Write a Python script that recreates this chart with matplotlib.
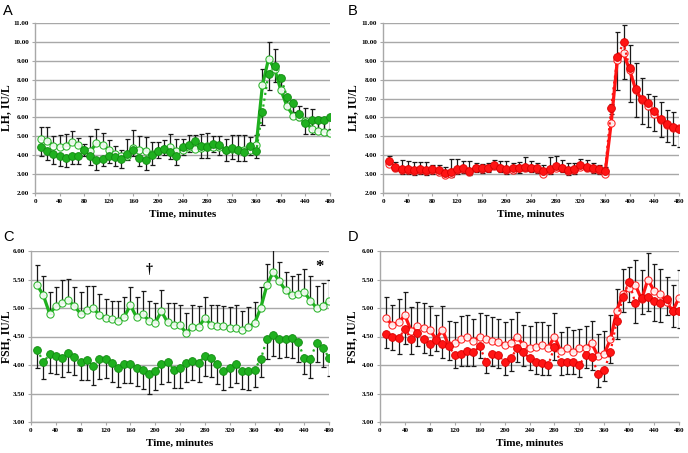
import matplotlib
matplotlib.use("Agg")
import matplotlib.pyplot as plt
import numpy as np

# ---------------- data ----------------
time_min = list(range(10, 481, 10))

# Panel A (LH, green)
A_open = [4.85, 4.75, 4.5, 4.45, 4.5, 4.7, 4.55, 4.3, 4.2, 4.65, 4.55, 4.3, 4.05, 3.95, 3.95, 4.4,
          4.3, 4.25, 4.05, 4.2, 4.35, 4.45, 4.2, 4.3, 4.45, 4.35, 4.4, 4.5, 4.45, 4.45, 4.3, 4.35,
          4.3, 4.3, 4.3, 4.55, 7.7, 9.1, 8.55, 7.45, 6.6, 6.1, 6.0, 5.8, 5.4, 5.3, 5.25, 5.2]
A_open_top = [5.49, 5.49, 5.03, 5.09, 5.12, 5.26, 4.91, 4.61, 5.03, 5.39, 5.18, 4.82, 4.5, 4.3, 4.86, 5.32,
              5.0, 4.95, 4.68, 4.68, 4.79, 5.14, 4.86, 4.86, 5.09, 5.09, 5.14, 5.18, 5.0, 5.03, 4.86, 5.09,
              5.09, 5.09, 4.96, 5.09, 8.56, 10.0, 9.6, 8.18, 7.03, 6.59, 6.59, 6.5, 6.45, 6.0, 5.9, 5.9]
A_fill = [4.42, 4.2, 4.06, 3.94, 3.85, 3.97, 3.97, 4.3, 3.94, 3.73, 3.8, 3.97, 3.9, 3.8, 4.08, 4.26,
          3.85, 3.76, 4.0, 4.24, 4.33, 4.15, 3.94, 4.42, 4.52, 4.77, 4.47, 4.42, 4.61, 4.52, 4.3, 4.38,
          4.3, 4.15, 4.47, 4.2, 6.3, 8.32, 8.74, 8.1, 7.1, 6.75, 6.2, 5.7, 5.85, 5.85, 5.85, 6.0]
A_fill_bottom = [3.94, 3.73, 3.53, 3.41, 3.36, 3.53, 3.53, 3.94, 3.5, 3.24, 3.41, 3.59, 3.45, 3.32, 3.76, 3.94,
                 3.41, 3.24, 3.5, 3.85, 4.03, 3.8, 3.5, 4.03, 4.15, 4.38, 3.85, 3.85, 4.15, 4.03, 3.71, 3.8,
                 3.71, 3.68, 4.03, 3.85, 5.62, 7.47, 7.86, 7.3, 6.5, 6.3, 5.85, 5.1, 5.1, 5.3, 5.3, 5.4]

# Panel B (LH, red)
B_open = [3.55, 3.35, 3.2, 3.2, 3.15, 3.2, 3.15, 3.2, 3.1, 2.95, 3.0, 3.2, 3.25, 3.1, 3.3, 3.25,
          3.3, 3.45, 3.3, 3.2, 3.2, 3.3, 3.35, 3.3, 3.25, 3.0, 3.2, 3.35, 3.3, 3.15, 3.2, 3.4,
          3.35, 3.25, 3.2, 3.0, 5.7, 9.05, 9.4, 8.5, 7.45, 6.9, 6.6, 6.2, 5.85, 5.6, 5.45, 5.42]
B_open_top = [3.95, 3.65, 3.75, 3.7, 3.65, 3.65, 3.65, 3.5, 3.5, 3.4, 3.8, 3.8, 3.7, 3.7, 3.6, 3.55,
              3.6, 3.75, 3.7, 3.7, 3.6, 3.65, 3.9, 3.7, 3.6, 3.5, 3.9, 3.95, 3.75, 3.6, 3.6, 3.8,
              3.75, 3.6, 3.5, 3.4, 6.7, 10.5, 10.9, 9.85, 8.9, 8.1, 7.25, 7.15, 6.8, 6.4, 6.3, 5.55]
B_fill = [3.7, 3.38, 3.25, 3.25, 3.2, 3.25, 3.2, 3.25, 3.2, 3.05, 3.1, 3.25, 3.3, 3.15, 3.35, 3.3,
          3.35, 3.5, 3.35, 3.25, 3.3, 3.3, 3.4, 3.35, 3.3, 3.15, 3.25, 3.45, 3.35, 3.2, 3.25, 3.5,
          3.4, 3.3, 3.25, 3.15, 6.5, 9.2, 9.97, 8.6, 7.5, 6.97, 6.75, 6.35, 5.92, 5.65, 5.48, 5.38]
B_fill_bottom = [3.45, 3.15, 3.0, 3.0, 2.95, 3.0, 2.95, 3.0, 2.95, 2.85, 2.85, 3.0, 3.05, 2.95, 3.1, 3.05,
                 3.1, 3.25, 3.1, 3.0, 3.05, 3.05, 3.15, 3.1, 3.05, 2.95, 3.0, 3.2, 3.1, 2.95, 3.0, 3.25,
                 3.15, 3.05, 3.0, 2.95, 6.2, 7.45, 8.05, 6.8, 6.05, 5.65, 5.5, 5.3, 4.95, 4.7, 4.55, 4.45]

# Panel C (FSH, green)
C_open = [5.40, 5.22, 4.90, 5.03, 5.09, 5.14, 5.03, 4.90, 4.96, 5.0, 4.88, 4.82, 4.80, 4.78, 4.84, 5.05,
          4.84, 4.89, 4.78, 4.74, 4.94, 4.75, 4.71, 4.70, 4.56, 4.67, 4.67, 4.82, 4.71, 4.68, 4.68, 4.65,
          4.65, 4.62, 4.67, 4.73, 5.0, 5.40, 5.63, 5.47, 5.31, 5.22, 5.25, 5.28, 5.13, 5.0, 5.03, 5.13]
C_open_top = [5.76, 5.57, 5.28, 5.37, 5.49, 5.51, 5.37, 5.28, 5.38, 5.38, 5.24, 5.15, 5.12, 5.12, 5.2, 5.36,
              5.19, 5.29, 5.12, 5.08, 5.32, 5.09, 5.08, 5.05, 4.91, 5.05, 5.03, 5.2, 5.06, 5.06, 5.03, 5.02,
              5.05, 4.94, 5.02, 5.1, 5.37, 5.78, 6.04, 5.81, 5.63, 5.57, 5.6, 5.69, 5.57, 5.38, 5.43, 5.5]
C_fill = [4.27, 4.05, 4.19, 4.15, 4.12, 4.21, 4.14, 4.05, 4.09, 3.98, 4.11, 4.11, 4.04, 3.94, 4.02, 4.02,
          3.95, 3.92, 3.84, 3.9, 4.01, 4.05, 3.92, 3.94, 4.04, 4.07, 4.04, 4.16, 4.12, 4.01, 3.9, 3.95,
          4.01, 3.9, 3.9, 3.92, 4.1, 4.45, 4.52, 4.45, 4.46, 4.48, 4.4, 4.13, 4.1, 4.39, 4.3, 4.13]
C_fill_bottom = [3.94, 3.76, 3.86, 3.84, 3.79, 3.88, 3.82, 3.73, 3.74, 3.65, 3.76, 3.77, 3.7, 3.61, 3.68, 3.68,
                 3.64, 3.58, 3.5, 3.57, 3.67, 3.71, 3.6, 3.6, 3.7, 3.74, 3.7, 3.8, 3.79, 3.67, 3.57, 3.61,
                 3.68, 3.58, 3.57, 3.61, 3.79, 4.11, 4.16, 4.12, 4.14, 4.13, 4.05, 3.84, 3.78, 4.05, 3.96, 3.81]

# Panel D (FSH, red)
D_open = [4.82, 4.7, 4.75, 4.87, 4.6, 4.68, 4.65, 4.62, 4.45, 4.62, 4.35, 4.38, 4.45, 4.5, 4.42, 4.5,
          4.45, 4.42, 4.4, 4.35, 4.38, 4.5, 4.35, 4.3, 4.32, 4.35, 4.3, 4.5, 4.25, 4.3, 4.22, 4.3,
          4.3, 4.38, 4.15, 4.2, 4.45, 4.95, 5.25, 5.35, 5.4, 5.15, 5.5, 5.3, 5.25, 5.1, 4.95, 5.18]
D_open_top = [5.2, 5.06, 5.15, 5.28, 5.02, 5.1, 5.08, 5.04, 4.88, 5.04, 4.77, 4.75, 4.86, 4.87, 4.8, 4.91,
              4.88, 4.84, 4.81, 4.75, 4.8, 4.93, 4.7, 4.68, 4.75, 4.75, 4.7, 4.91, 4.58, 4.67, 4.61, 4.64,
              4.68, 4.77, 4.55, 4.59, 4.87, 5.34, 5.69, 5.72, 5.85, 5.67, 5.97, 5.78, 5.68, 5.54, 5.41, 5.66]
D_fill = [4.55, 4.49, 4.47, 4.63, 4.45, 4.57, 4.45, 4.36, 4.43, 4.37, 4.33, 4.18, 4.2, 4.24, 4.22, 4.33,
          4.06, 4.2, 4.17, 4.06, 4.12, 4.29, 4.22, 4.12, 4.06, 4.04, 4.0, 4.31, 4.05, 4.06, 4.05, 4.0,
          4.17, 4.14, 3.85, 3.91, 4.23, 4.77, 5.19, 5.46, 5.08, 5.18, 5.19, 5.12, 5.09, 5.16, 4.95, 4.95]
D_fill_bottom = [4.3, 4.26, 4.2, 4.37, 4.2, 4.33, 4.21, 4.17, 4.24, 4.12, 4.08, 3.95, 3.99, 3.99, 3.99, 4.13,
                 3.86, 3.98, 3.95, 3.82, 3.89, 4.06, 3.99, 3.91, 3.85, 3.82, 3.82, 4.08, 3.82, 3.84, 3.84, 3.79,
                 3.95, 3.91, 3.61, 3.72, 4.04, 4.45, 4.93, 5.1, 4.74, 4.9, 4.94, 4.78, 4.75, 4.88, 4.67, 4.65]

x_ticks = list(range(0, 481, 40))
lh_ticks = [2, 3, 4, 5, 6, 7, 8, 9, 10, 11]
fsh_ticks = [3.0, 3.5, 4.0, 4.5, 5.0, 5.5, 6.0]

GREEN = "#1fb01f"
GREEN_EDGE = "#118a11"
RED = "#ff1414"
RED_EDGE = "#d90000"

SERIF = "Liberation Serif"
SANS = "Liberation Sans"

W, H = 688, 453
fig = plt.figure(figsize=(W / 100, H / 100), dpi=100)


def box(l, r, t, b):
    return [l / W, 1 - b / H, (r - l) / W, (b - t) / H]


def panel(px, open_v, open_top, fill_v, fill_bot, color, edge, yticks, ylabel, ylab_x,
          letter, letter_xy):
    l, r, tp, b = px
    ax = fig.add_axes(box(l, r, tp, b))
    t = np.array(time_min)
    ov = np.array(open_v)
    fv = np.array(fill_v)
    up = np.clip(np.array(open_top) - ov, 0, None)
    dn = np.clip(fv - np.array(fill_bot), 0, None)
    ax.errorbar(t, ov, yerr=[np.zeros_like(up), up], fmt="none", ecolor="#1a1a1a",
                elinewidth=0.9, capsize=1.8, capthick=0.9, zorder=2)
    ax.errorbar(t, fv, yerr=[dn, np.zeros_like(dn)], fmt="none", ecolor="#1a1a1a",
                elinewidth=0.9, capsize=1.8, capthick=0.9, zorder=2)
    ax.plot(t, ov, "-", color=color, lw=2.3, zorder=3)
    ax.plot(t, ov, "o", mfc="white", mec=color, mew=0.8, ms=5.2, alpha=0.9, zorder=3)
    ax.plot(t, fv, ":", color=color, lw=1.6, zorder=4)
    ax.plot(t, fv, "o", mfc=color, mec=edge, mew=0.6, ms=5.6, zorder=5)

    ax.set_xlim(0, 480)
    ax.set_ylim(yticks[0], yticks[-1])
    ax.set_xticks(x_ticks)
    ax.set_yticks(yticks)
    ax.set_yticklabels(["%.2f" % v for v in yticks])
    ax.set_xticklabels([str(v) for v in x_ticks])
    ax.grid(axis="y", color="#a8a8a8", lw=1.0)
    ax.set_axisbelow(True)
    for s in ["top", "right"]:
        ax.spines[s].set_visible(False)
    for s in ["left", "bottom"]:
        ax.spines[s].set_color("#a8a8a8")
        ax.spines[s].set_linewidth(1.0)
    ax.tick_params(axis="both", length=2.5, width=0.8, color="#a8a8a8", pad=2)
    for lab in ax.get_xticklabels() + ax.get_yticklabels():
        lab.set_fontfamily(SERIF)
        lab.set_fontweight("bold")
        lab.set_fontsize(5)
    ax.set_ylabel(ylabel, fontfamily=SERIF, fontweight="bold", fontsize=8.5)
    ax.yaxis.set_label_coords((ylab_x - l) / (r - l), 0.5)
    ax.set_xlabel("Time, minutes", fontfamily=SERIF, fontweight="bold", fontsize=8, labelpad=4)
    fig.text(letter_xy[0] / W, 1 - letter_xy[1] / H, letter, fontfamily=SANS, fontsize=10.5,
             ha="left", va="baseline")
    return ax


panel((35, 330, 23, 193), A_open, A_open_top, A_fill, A_fill_bottom, GREEN, GREEN_EDGE,
      lh_ticks, "LH, IU/L", 12, "A", (3, 15))
panel((383, 679, 23, 193), B_open, B_open_top, B_fill, B_fill_bottom, RED, RED_EDGE,
      lh_ticks, "LH, IU/L", 359, "B", (348, 15))
axC = panel((31, 329, 251, 422), C_open, C_open_top, C_fill, C_fill_bottom, GREEN, GREEN_EDGE,
            fsh_ticks, "FSH, IU/L", 12, "C", (3, 241))
panel((380, 679, 251, 422), D_open, D_open_top, D_fill, D_fill_bottom, RED, RED_EDGE,
      fsh_ticks, "FSH, IU/L", 358, "D", (348, 241))

axC.text(190, 5.68, "\u2020", fontfamily=SERIF, fontweight="bold", fontsize=10, ha="center", va="center")
axC.text(465, 5.72, "*", fontfamily=SERIF, fontweight="bold", fontsize=12, ha="center", va="center")

fig.savefig("out.png", dpi=100)
